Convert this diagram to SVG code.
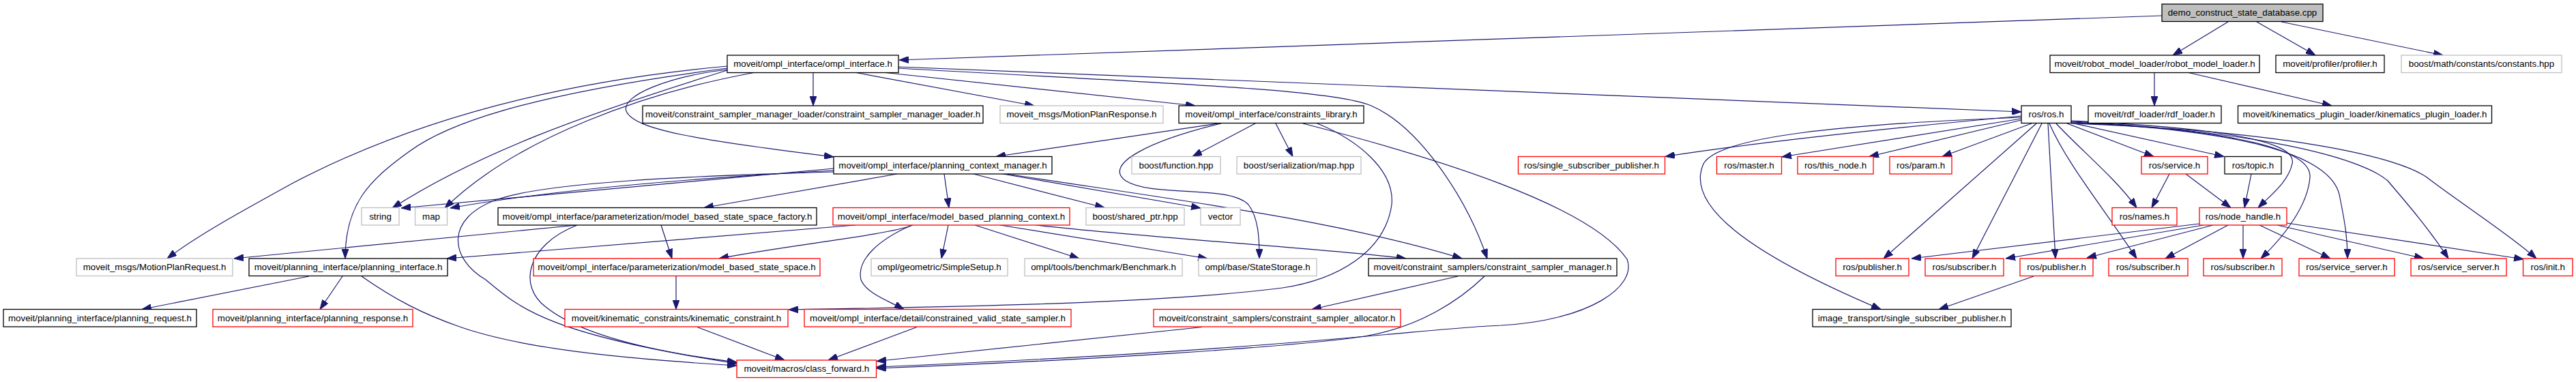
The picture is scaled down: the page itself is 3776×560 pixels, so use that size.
<svg xmlns="http://www.w3.org/2000/svg" width="3776" height="560" viewBox="0 0 3776 560">
<defs>
<marker id="ah" markerUnits="userSpaceOnUse" markerWidth="14" markerHeight="10" viewBox="0 0 14 10" refX="14" refY="5" orient="auto"><path d="M0,0 L14,5 L0,10 z" fill="#191970" stroke="#191970" stroke-width="1"/></marker>
</defs>
<style>
.e path{fill:none;stroke:#191970;stroke-width:1.2;marker-end:url(#ah)}
.nd rect{fill:#fff;stroke:#000;stroke-width:1.3}
.gy rect{stroke:#bfbfbf}
.rd rect{stroke:#ff0000}
.root rect{fill:#bfbfbf}
.nd text{font-family:"Liberation Sans",Arial,sans-serif;font-size:13.33px;fill:#000;text-anchor:middle}
</style>
<rect width="3776" height="560" fill="#fff"/>
<g id="connectors" class="e">
<path d="M3169,23 L1318,88"/>
<path d="M3266,32 L3185,81"/>
<path d="M3308,32 L3394,81"/>
<path d="M3344,32 L3581,81"/>
<path d="M3158,106.5 L3158,155"/>
<path d="M3208,106.5 L3418,155"/>
<path d="M1192,106.5 L1192,155"/>
<path d="M1255,106.5 L1516,155"/>
<path d="M1298,106.5 L1752,155"/>
<path d="M1317,98 L2963,164"/>
<path d="M1317,100 C1700,122 1950,130 2010,155 C2080,185 2150,290 2180,379"/>
<path d="M1066,102 C980,112 910,140 918,163 C930,190 1020,205 1222,230"/>
<path d="M1066,97 C760,125 560,200 430,268 C350,312 290,345 245,379"/>
<path d="M1066,100 C760,140 650,185 600,222 C540,265 506,300 506,379"/>
<path d="M1066,103 C850,170 700,225 575,305"/>
<path d="M1105,106.5 C950,135 760,200 652,305"/>
<path d="M1786,181 L1460,229.5"/>
<path d="M1840,181 L1748,229.5"/>
<path d="M1870,181 L1895,229.5"/>
<path d="M1790,181 C1690,205 1615,240 1650,265 C1690,290 1800,270 1830,300 C1845,320 1846,350 1846,379"/>
<path d="M1931,181 C1990,205 2045,250 2040,300 C2030,370 1960,410 1880,422 C1700,445 1400,450 1156,454"/>
<path d="M1910,181 C2100,230 2330,300 2385,380 C2400,420 2330,470 2200,477 C2100,480 1900,512 1285,538"/>
<path d="M1222,247 L588,305"/>
<path d="M1222,250 C1000,262 800,280 660,305"/>
<path d="M1315,255 L1032,304.5"/>
<path d="M1384,255 L1391,304.5"/>
<path d="M1427,255 L1619,304.5"/>
<path d="M1470,255 L1760,305"/>
<path d="M1476,255 C1700,290 1950,320 2143,379"/>
<path d="M1222,252 C1000,258 800,268 730,292 C650,320 660,380 712,410 C760,450 800,490 1080,533"/>
<path d="M846,330 L343,379"/>
<path d="M969,330 L985,379"/>
<path d="M846,330 C770,360 760,420 800,450 C850,490 950,515 1080,531"/>
<path d="M1254,330 L655,379"/>
<path d="M1338,330 C1300,345 1150,360 1054,379"/>
<path d="M1337,330 C1290,350 1255,380 1262,410 C1270,430 1300,440 1325,453.5"/>
<path d="M1390,330 L1380,379"/>
<path d="M1429,330 L1582,379"/>
<path d="M1466,330 L1770,379"/>
<path d="M1519,330 C1700,350 1950,365 2061,379"/>
<path d="M453,405 L208,453.5"/>
<path d="M502,405 L469,453.5"/>
<path d="M530,405 C580,440 620,460 671,478 C760,510 900,525 1080,536"/>
<path d="M991,405 L991,453.5"/>
<path d="M1022,479.5 L1150,528"/>
<path d="M1344,479.5 L1214,528"/>
<path d="M1762,479.5 L1285,529.5"/>
<path d="M2137,405 L1923,453.5"/>
<path d="M2176,405 C2140,440 2080,480 2000,493 C1900,508 1600,528 1285,540"/>
<path d="M2963,170 C2800,185 2600,205 2441,229.5"/>
<path d="M2963,172 C2700,182 2520,200 2497,240 C2470,300 2560,370 2757,453.5"/>
<path d="M2963,174 L2612,230"/>
<path d="M2963,176 L2740,229.5"/>
<path d="M2978,181 L2847,229.5"/>
<path d="M2985,181 L2761,379"/>
<path d="M2993,181 L2891,379"/>
<path d="M3002,181 L3013,379"/>
<path d="M3004,181 C3030,240 3080,300 3132,379"/>
<path d="M3014,181 C3050,220 3100,260 3132,304.5"/>
<path d="M3030,181 L3157,229.5"/>
<path d="M3036,180 L3260,229.5"/>
<path d="M3036,177 C3200,185 3370,200 3360,240 C3355,265 3330,285 3310,304.5"/>
<path d="M3036,178 C3220,188 3390,210 3386,260 C3383,300 3350,345 3314,379"/>
<path d="M3036,179 C3260,190 3420,220 3430,290 C3438,330 3441,350 3441,379"/>
<path d="M3036,180 C3300,190 3460,230 3500,265 C3530,300 3560,335 3589,379"/>
<path d="M3036,181 C3350,192 3520,230 3560,262 C3610,300 3680,345 3718,379"/>
<path d="M3180,255 L3154,304.5"/>
<path d="M3204,255 L3270,304.5"/>
<path d="M3300,255 L3290,304.5"/>
<path d="M3224,328 L2802,379"/>
<path d="M3230,330 L2940,379"/>
<path d="M3244,330 L3059,378"/>
<path d="M3266,330 L3174,379"/>
<path d="M3288,330 L3288,379"/>
<path d="M3312,330 L3416,379"/>
<path d="M3338,330 L3553,379"/>
<path d="M3352,327 L3699,380"/>
<path d="M2981,405 L2842,453.5"/>
</g>
<g id="demo" class="nd root"><rect x="3169" y="6" width="236" height="25.5"/><text x="3287" y="23">demo_construct_state_database.cpp</text></g>
<g id="ompl_interface" class="nd"><rect x="1066" y="81" width="251" height="25.5"/><text x="1191.5" y="98">moveit/ompl_interface/ompl_interface.h</text></g>
<g id="robot_model_loader" class="nd"><rect x="3005" y="81" width="307" height="25.5"/><text x="3158.5" y="98">moveit/robot_model_loader/robot_model_loader.h</text></g>
<g id="profiler" class="nd"><rect x="3336" y="81" width="159" height="25.5"/><text x="3415.5" y="98">moveit/profiler/profiler.h</text></g>
<g id="constants" class="nd gy"><rect x="3520" y="81" width="235" height="25.5"/><text x="3637.5" y="98">boost/math/constants/constants.hpp</text></g>
<g id="csm_loader" class="nd"><rect x="942" y="155" width="499" height="25.5"/><text x="1191.5" y="172">moveit/constraint_sampler_manager_loader/constraint_sampler_manager_loader.h</text></g>
<g id="mp_response" class="nd gy"><rect x="1466" y="155" width="239" height="25.5"/><text x="1585.5" y="172">moveit_msgs/MotionPlanResponse.h</text></g>
<g id="constraints_library" class="nd"><rect x="1728" y="155" width="271" height="25.5"/><text x="1863.5" y="172">moveit/ompl_interface/constraints_library.h</text></g>
<g id="ros_h" class="nd"><rect x="2963" y="155" width="73" height="25.5"/><text x="2999.5" y="172">ros/ros.h</text></g>
<g id="rdf_loader" class="nd"><rect x="3061" y="155" width="195" height="25.5"/><text x="3158.5" y="172">moveit/rdf_loader/rdf_loader.h</text></g>
<g id="kinematics_plugin_loader" class="nd"><rect x="3280.5" y="155" width="372" height="25.5"/><text x="3466.5" y="172">moveit/kinematics_plugin_loader/kinematics_plugin_loader.h</text></g>
<g id="planning_context_manager" class="nd"><rect x="1222" y="229.5" width="320" height="25.5"/><text x="1382" y="246.5">moveit/ompl_interface/planning_context_manager.h</text></g>
<g id="boost_function" class="nd gy"><rect x="1659" y="229.5" width="130" height="25.5"/><text x="1724" y="246.5">boost/function.hpp</text></g>
<g id="boost_serialization_map" class="nd gy"><rect x="1813" y="229.5" width="182" height="25.5"/><text x="1904" y="246.5">boost/serialization/map.hpp</text></g>
<g id="single_subscriber_publisher" class="nd rd"><rect x="2225.5" y="229.5" width="215" height="25.5"/><text x="2333" y="246.5">ros/single_subscriber_publisher.h</text></g>
<g id="master" class="nd rd"><rect x="2516.5" y="229.5" width="95" height="25.5"/><text x="2564" y="246.5">ros/master.h</text></g>
<g id="this_node" class="nd rd"><rect x="2635" y="229.5" width="111" height="25.5"/><text x="2690.5" y="246.5">ros/this_node.h</text></g>
<g id="param" class="nd rd"><rect x="2770" y="229.5" width="91" height="25.5"/><text x="2815.5" y="246.5">ros/param.h</text></g>
<g id="service" class="nd rd"><rect x="3139" y="229.5" width="97" height="25.5"/><text x="3187.5" y="246.5">ros/service.h</text></g>
<g id="topic" class="nd"><rect x="3261" y="229.5" width="83" height="25.5"/><text x="3302.5" y="246.5">ros/topic.h</text></g>
<g id="string" class="nd gy"><rect x="530" y="304.5" width="55" height="25.5"/><text x="557.5" y="321.5">string</text></g>
<g id="map" class="nd gy"><rect x="608.5" y="304.5" width="47" height="25.5"/><text x="632" y="321.5">map</text></g>
<g id="model_based_state_space_factory" class="nd"><rect x="730" y="304.5" width="467" height="25.5"/><text x="963.5" y="321.5">moveit/ompl_interface/parameterization/model_based_state_space_factory.h</text></g>
<g id="model_based_planning_context" class="nd rd"><rect x="1221" y="304.5" width="347" height="25.5"/><text x="1394.5" y="321.5">moveit/ompl_interface/model_based_planning_context.h</text></g>
<g id="shared_ptr" class="nd gy"><rect x="1592" y="304.5" width="144" height="25.5"/><text x="1664" y="321.5">boost/shared_ptr.hpp</text></g>
<g id="vector" class="nd gy"><rect x="1760" y="304.5" width="58" height="25.5"/><text x="1789" y="321.5">vector</text></g>
<g id="names" class="nd rd"><rect x="3096" y="304.5" width="95" height="25.5"/><text x="3143.5" y="321.5">ros/names.h</text></g>
<g id="node_handle" class="nd rd"><rect x="3224" y="304.5" width="128" height="25.5"/><text x="3288" y="321.5">ros/node_handle.h</text></g>
<g id="mp_request" class="nd gy"><rect x="112" y="379" width="229" height="25.5"/><text x="226.5" y="396">moveit_msgs/MotionPlanRequest.h</text></g>
<g id="planning_interface" class="nd"><rect x="365" y="379" width="291" height="25.5"/><text x="510.5" y="396">moveit/planning_interface/planning_interface.h</text></g>
<g id="model_based_state_space" class="nd rd"><rect x="782" y="379" width="420" height="25.5"/><text x="992" y="396">moveit/ompl_interface/parameterization/model_based_state_space.h</text></g>
<g id="simple_setup" class="nd gy"><rect x="1277" y="379" width="200" height="25.5"/><text x="1377" y="396">ompl/geometric/SimpleSetup.h</text></g>
<g id="benchmark" class="nd gy"><rect x="1502" y="379" width="231" height="25.5"/><text x="1617.5" y="396">ompl/tools/benchmark/Benchmark.h</text></g>
<g id="state_storage" class="nd gy"><rect x="1757" y="379" width="173" height="25.5"/><text x="1843.5" y="396">ompl/base/StateStorage.h</text></g>
<g id="constraint_sampler_manager" class="nd"><rect x="2006" y="379" width="364" height="25.5"/><text x="2188" y="396">moveit/constraint_samplers/constraint_sampler_manager.h</text></g>
<g id="publisher_1" class="nd rd"><rect x="2691" y="379" width="107" height="25.5"/><text x="2744.5" y="396">ros/publisher.h</text></g>
<g id="subscriber_1" class="nd rd"><rect x="2822" y="379" width="115" height="25.5"/><text x="2879.5" y="396">ros/subscriber.h</text></g>
<g id="publisher_2" class="nd rd"><rect x="2961" y="379" width="107" height="25.5"/><text x="3014.5" y="396">ros/publisher.h</text></g>
<g id="subscriber_2" class="nd rd"><rect x="3091" y="379" width="116" height="25.5"/><text x="3149" y="396">ros/subscriber.h</text></g>
<g id="subscriber_3" class="nd rd"><rect x="3230" y="379" width="115" height="25.5"/><text x="3287.5" y="396">ros/subscriber.h</text></g>
<g id="service_server_1" class="nd rd"><rect x="3370" y="379" width="140" height="25.5"/><text x="3440" y="396">ros/service_server.h</text></g>
<g id="service_server_2" class="nd rd"><rect x="3534" y="379" width="140" height="25.5"/><text x="3604" y="396">ros/service_server.h</text></g>
<g id="init" class="nd rd"><rect x="3698.5" y="379" width="72.5" height="25.5"/><text x="3734.75" y="396">ros/init.h</text></g>
<g id="planning_request" class="nd"><rect x="5" y="453.5" width="283" height="25.5"/><text x="146.5" y="470.5">moveit/planning_interface/planning_request.h</text></g>
<g id="planning_response" class="nd rd"><rect x="312" y="453.5" width="293" height="25.5"/><text x="458.5" y="470.5">moveit/planning_interface/planning_response.h</text></g>
<g id="kinematic_constraint" class="nd rd"><rect x="828" y="453.5" width="327" height="25.5"/><text x="991.5" y="470.5">moveit/kinematic_constraints/kinematic_constraint.h</text></g>
<g id="constrained_valid_state_sampler" class="nd rd"><rect x="1179" y="453.5" width="391" height="25.5"/><text x="1374.5" y="470.5">moveit/ompl_interface/detail/constrained_valid_state_sampler.h</text></g>
<g id="constraint_sampler_allocator" class="nd rd"><rect x="1691" y="453.5" width="362" height="25.5"/><text x="1872" y="470.5">moveit/constraint_samplers/constraint_sampler_allocator.h</text></g>
<g id="image_transport_ssp" class="nd"><rect x="2657" y="453.5" width="291" height="25.5"/><text x="2802.5" y="470.5">image_transport/single_subscriber_publisher.h</text></g>
<g id="class_forward" class="nd rd"><rect x="1080" y="528" width="204.5" height="25.5"/><text x="1182.25" y="545">moveit/macros/class_forward.h</text></g>
</svg>
